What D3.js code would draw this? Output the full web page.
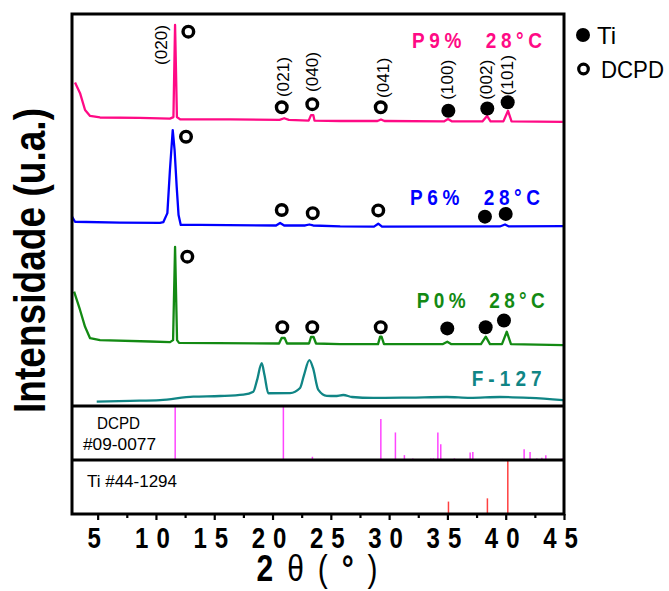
<!DOCTYPE html>
<html>
<head>
<meta charset="utf-8">
<script src="https://cdn.jsdelivr.net/npm/d3@7"></script>
<style>
body { margin: 0; background: #fff; }
text { font-family: "Liberation Sans", Arial, sans-serif; }
</style>
</head>
<body>
<script>
// 2theta ticks
var majorTicks = [5, 10, 15, 20, 25, 30, 35, 40, 45];
var minorTicks = [7.5, 12.5, 17.5, 22.5, 27.5, 32.5, 37.5, 42.5];

// diffractograms [2theta, intensity (stacked, a.u.)]
var p9 = [[3.06,82.5],[3.49,79.8],[3.92,75.5],[4.35,74.0],[5.2,73.6],[8.6,73.5],[11.2,73.3],[11.5,73.7],[11.64,97.2],[11.8,73.7],[12.1,73.1],
  [16.4,73.1],[20.6,73.0],[21.0,73.4],[21.4,73.0],[23.1,72.8],[23.3,74.2],[23.5,74.2],[23.6,72.8],[25.8,72.7],[29.0,72.7],[29.3,73.1],[29.6,72.7],
  [34.7,72.6],[35.05,73.2],[35.4,72.6],[38.0,72.6],[38.4,74.0],[38.7,72.6],[39.8,72.6],[40.2,75.3],[40.5,72.6],[44.9,72.5]];
var p6 = [[2.8,48.3],[3.06,47.0],[6.9,46.8],[10.35,46.7],[10.63,46.9],[10.98,49.2],[11.2,60.2],[11.44,70.4],[11.6,65.3],[11.78,55.9],[11.94,48.7],
  [12.13,46.2],[13.8,46.2],[20.3,46.05],[20.65,46.7],[21.0,46.05],[22.8,46.05],[23.16,46.3],[23.48,46.05],[25.8,45.8],[28.7,45.75],[29.07,46.5],
  [29.39,45.75],[39.5,45.8],[39.94,46.3],[40.28,45.8],[44.92,45.9]];
var p0 = [[2.98,29.2],[3.49,24.5],[3.92,20.2],[4.35,17.3],[5.2,16.8],[9.5,16.45],[11.21,16.3],[11.47,16.8],[11.64,40.6],[11.81,16.8],[11.98,16.1],
  [20.56,15.95],[20.78,17.35],[21.04,17.35],[21.24,15.95],[23.13,15.95],[23.3,17.6],[23.52,17.6],[23.73,15.95],[25.79,15.8],[29.05,15.8],[29.23,17.7],
  [29.35,17.7],[29.56,15.8],[34.62,15.8],[34.99,16.4],[35.31,15.8],[37.88,15.8],[38.29,17.7],[38.65,15.8],[39.68,15.8],[40.09,18.95],[40.45,15.8],[44.92,15.55]];
var f127 = [[4.92,1.1],[7.78,1.3],[10.35,1.5],[13.21,2.4],[15.5,2.55],[17.5,2.9],[18.35,3.65],[18.67,6.6],[19.07,10.9],[19.31,7.9],[19.64,3.25],
  [21.5,3.3],[22.36,4.6],[22.7,7.9],[23.16,11.7],[23.47,9.7],[23.93,4.1],[24.65,2.6],[25.36,2.55],[26.07,2.8],[26.82,2.3],[28.62,2.05],[31.79,2.15],
  [34.94,2.3],[36.94,2.05],[39.51,2.3],[42.09,2.05],[44.92,1.5]];

// phase markers [2theta, height]
var p9Dcpd = [[12.78,95.5],[20.79,76.2],[23.41,77.0],[29.28,76.2]];
var p9Ti = [[35.08,75.3],[38.42,75.9],[40.17,77.5]];
var p6Dcpd = [[12.58,68.7],[20.79,50.0],[23.45,49.2],[29.07,49.9]];
var p6Ti = [[38.22,48.3],[40.0,49.0]];
var p0Dcpd = [[12.69,38.1],[20.84,20.1],[23.41,20.1],[29.28,20.1]];
var p0Ti = [[34.99,19.8],[38.28,20.1],[39.85,21.8]];

// (hkl) labels [2theta, height of label foot, text]
var millerLabels = [[10.5,87.0,"(020)"],[20.93,78.8,"(021)"],[23.41,80.1,"(040)"],[29.5,78.6,"(041)"],[35.0,78.1,"(100)"],[38.37,78.1,"(002)"],[40.17,79.3,"(101)"]];

// reference patterns [2theta, relative intensity %]
var dcpdRef = [[11.65,100],[18.0,2],[20.93,100],[23.42,6],[24.45,2],[29.29,76],[30.54,51],[31.31,9],[32.03,3],[33.58,3],[33.8,3],[34.18,51],[34.43,29],
  [35.15,2],[35.6,3],[36.95,14],[37.18,15],[39.72,2],[41.58,20],[42.09,15],[42.67,3],[43.1,4],[43.44,9],[44.86,3]];
var tiRef = [[35.09,23],[38.43,29],[40.18,100]];

var seriesNames = ["P9%\u00a0\u00a028°C", "P6%\u00a0\u00a028°C", "P0%\u00a0\u00a028°C", "F-127"];
var seriesLabelPos = [[31.96,91.3],[31.79,51.3],[32.37,24.9],[37.08,5.2]];

var width = 669, height = 591;
var svg = d3.select("body").append("svg")
    .attr("width", width)
    .attr("height", height);

var x = d3.scaleLinear().domain([2.8, 45]).range([72, 564]);
var yMain = d3.scaleLinear().domain([0, 100]).range([406, 14]);
var yDcpd = d3.scaleLinear().domain([0, 100]).range([460, 406]);
var yTi = d3.scaleLinear().domain([0, 100]).range([514, 460]);

var line = d3.line()
    .x(function(d) { return x(d[0]); })
    .y(function(d) { return yMain(d[1]); });

var series = [
  {data: p9, color: "#ff0a85", dcpd: p9Dcpd, ti: p9Ti, lw: 130},
  {data: p6, color: "#0000ff", dcpd: p6Dcpd, ti: p6Ti, lw: 130},
  {data: p0, color: "#138a13", dcpd: p0Dcpd, ti: p0Ti, lw: 128},
  {data: f127, color: "#108585", dcpd: [], ti: [], lw: 70}
];

// reference sticks
svg.selectAll(".dcpd").data(dcpdRef).enter().append("line")
    .attr("x1", function(d) { return x(d[0]); })
    .attr("x2", function(d) { return x(d[0]); })
    .attr("y1", yDcpd(0))
    .attr("y2", function(d) { return yDcpd(d[1]); })
    .attr("stroke", "#ff44ff")
    .attr("stroke-width", 1.5);
svg.selectAll(".tiref").data(tiRef).enter().append("line")
    .attr("x1", function(d) { return x(d[0]); })
    .attr("x2", function(d) { return x(d[0]); })
    .attr("y1", yTi(0))
    .attr("y2", function(d) { return yTi(d[1]); })
    .attr("stroke", "#ff4040")
    .attr("stroke-width", 1.5);

// curves
series.forEach(function(s, i) {
  svg.append("path")
      .datum(s.data)
      .attr("fill", "none")
      .attr("stroke", s.color)
      .attr("stroke-width", 2.3)
      .attr("stroke-linejoin", "round")
      .attr("d", i == 3 ? line.curve(d3.curveMonotoneX)(s.data) : line.curve(d3.curveLinear)(s.data));

  svg.selectAll(null).data(s.dcpd).enter().append("circle")
      .attr("cx", function(d) { return x(d[0]); })
      .attr("cy", function(d) { return yMain(d[1]); })
      .attr("r", 5.3)
      .attr("fill", "none")
      .attr("stroke", "#000")
      .attr("stroke-width", 3.4);
  svg.selectAll(null).data(s.ti).enter().append("circle")
      .attr("cx", function(d) { return x(d[0]); })
      .attr("cy", function(d) { return yMain(d[1]); })
      .attr("r", 7)
      .attr("fill", "#000");

  var p = seriesLabelPos[i];
  svg.append("text")
      .attr("transform", "translate(" + x(p[0]) + "," + yMain(p[1]) + ") scale(1,1.12)")
      .attr("fill", s.color)
      .style("font-size", "19px")
      .style("font-weight", "bold")
      .attr("textLength", s.lw)
      .attr("lengthAdjust", "spacing")
      .text(seriesNames[i]);
});

// (hkl) labels
svg.selectAll(".hkl").data(millerLabels).enter().append("text")
    .attr("transform", function(d) { return "translate(" + x(d[0]) + "," + yMain(d[1]) + ") rotate(-90)"; })
    .attr("dy", "0.35em")
    .style("font-size", "16px")
    .attr("textLength", 40)
    .attr("lengthAdjust", "spacingAndGlyphs")
    .text(function(d) { return d[2]; });

// frame and panel dividers
svg.append("rect")
    .attr("x", 72).attr("y", 14)
    .attr("width", 492).attr("height", 500)
    .attr("fill", "none")
    .attr("stroke", "#000")
    .attr("stroke-width", 3);
[yMain(0), yDcpd(0)].forEach(function(yy) {
  svg.append("line")
      .attr("x1", 72).attr("x2", 564)
      .attr("y1", yy).attr("y2", yy)
      .attr("stroke", "#000")
      .attr("stroke-width", 3);
});

// panel texts
svg.append("text").attr("x", 118.5).attr("y", 428.5).attr("text-anchor", "middle")
    .style("font-size", "17px").attr("textLength", 43).attr("lengthAdjust", "spacingAndGlyphs").text("DCPD");
svg.append("text").attr("x", 119.5).attr("y", 450).attr("text-anchor", "middle")
    .style("font-size", "17px").attr("textLength", 73).attr("lengthAdjust", "spacingAndGlyphs").text("#09-0077");
svg.append("text").attr("x", 87).attr("y", 486.5)
    .style("font-size", "17px").attr("textLength", 90).attr("lengthAdjust", "spacingAndGlyphs").text("Ti #44-1294");

// x axis
var minorAxis = svg.append("g")
    .attr("transform", "translate(0," + yTi(0) + ")")
    .call(d3.axisBottom(x).tickValues(minorTicks).tickSize(4).tickFormat(""));
minorAxis.select(".domain").remove();
var majorAxis = svg.append("g")
    .attr("transform", "translate(0," + yTi(0) + ")")
    .call(d3.axisBottom(x).tickValues(majorTicks).tickSize(6).tickFormat(function(d) { return d; }));
majorAxis.select(".domain").remove();
svg.selectAll(".tick line").attr("stroke", "#000").attr("stroke-width", 2.2);
majorAxis.selectAll("text")
    .attr("y", 27.4)
    .attr("dy", 0)
    .attr("transform", "scale(1,1.25)")
    .attr("fill", "#000")
    .style("font-family", "'Liberation Sans', Arial, sans-serif")
    .style("font-size", "24px")
    .style("font-weight", "bold")
    .style("letter-spacing", "8px");

// axis titles
var xt = svg.append("text")
    .attr("transform", "translate(324,581) scale(1,1.25)")
    .attr("text-anchor", "middle")
    .style("font-size", "30px")
    .style("letter-spacing", "13.9px");
xt.append("tspan").style("font-weight", "bold").text("2");
xt.append("tspan").text("θ(");
xt.append("tspan").style("font-weight", "bold").text("°");
xt.append("tspan").text(")");

svg.append("text")
    .attr("transform", "translate(45,260.5) rotate(-90)")
    .attr("text-anchor", "middle")
    .style("font-size", "44px")
    .style("font-weight", "bold")
    .attr("textLength", 305)
    .attr("lengthAdjust", "spacingAndGlyphs")
    .text("Intensidade (u.a.)");

// legend
svg.append("circle").attr("cx", 583).attr("cy", 35).attr("r", 7).attr("fill", "#000");
svg.append("text").attr("x", 597).attr("y", 44).style("font-size", "24px").text("Ti");
svg.append("circle").attr("cx", 583.5).attr("cy", 69).attr("r", 4.8)
    .attr("fill", "none").attr("stroke", "#000").attr("stroke-width", 3.2);
svg.append("text").attr("x", 601).attr("y", 78).style("font-size", "24px")
    .attr("textLength", 63).attr("lengthAdjust", "spacingAndGlyphs").text("DCPD");
</script>
</body>
</html>
